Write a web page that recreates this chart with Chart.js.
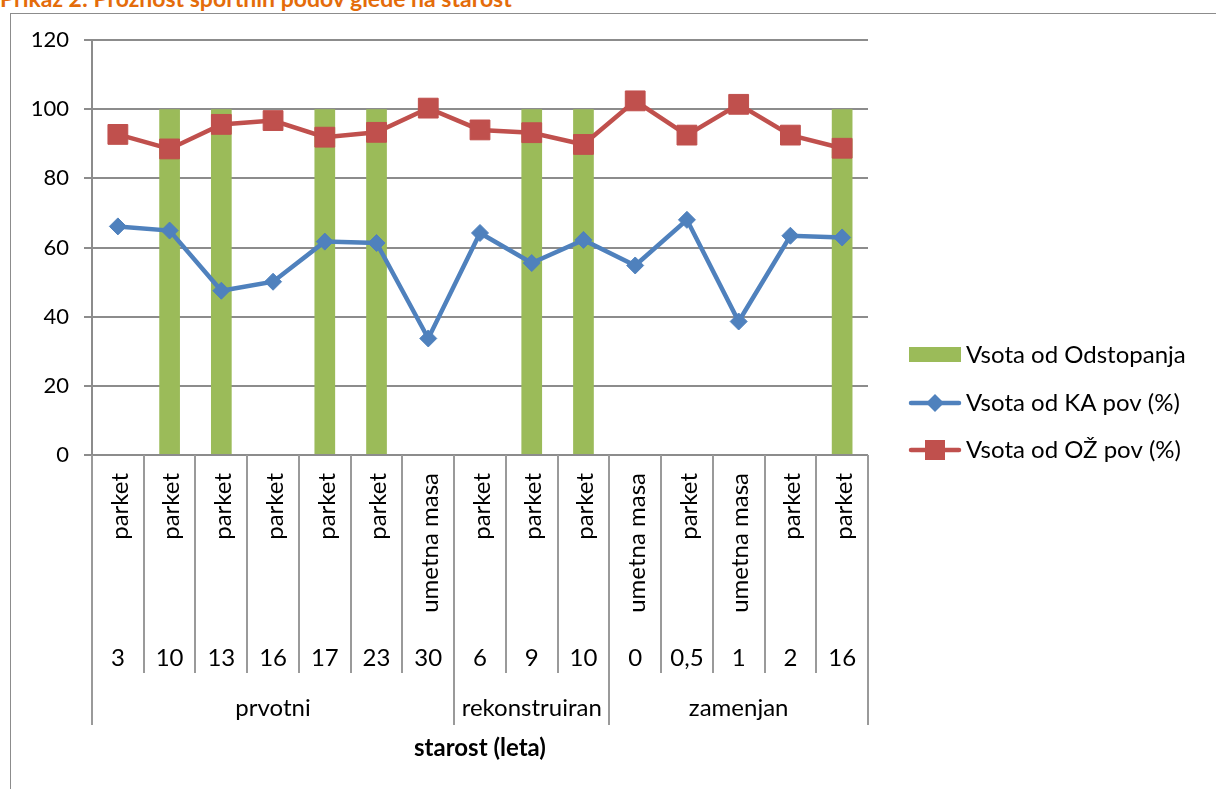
<!DOCTYPE html>
<html>
<head>
<meta charset="utf-8">
<script src="https://cdn.jsdelivr.net/npm/chart.js@4.4.1/dist/chart.umd.min.js"></script>
<style>
  html, body { margin: 0; padding: 0; background: #fff; overflow: hidden; }
  #wrap { position: relative; width: 1216px; height: 789px; }
  #title {
    position: absolute; left: 0; top: -16px; white-space: nowrap;
    font: bold 23px Lato, "Open Sans", sans-serif; color: #e46c0a;
  }
  #frame {
    position: absolute; left: 10px; top: 13px; width: 1300px; height: 900px;
    border: 1.5px solid #8c8c8c; box-sizing: border-box;
  }
  #chart { position: absolute; left: 0; top: 0; }
</style>
</head>
<body>
<div id="wrap">
  <div id="title">Prikaz 2: Prožnost športnih podov glede na starost</div>
  <div id="frame"></div>
  <canvas id="chart" width="1216" height="789"></canvas>
</div>
<script>
// Prožnost športnih podov: stolpci (odstopanja) + dve črti (KA, OŽ), x-os v treh nivojih.
const materials = ["parket", "parket", "parket", "parket", "parket", "parket", "umetna masa",
  "parket", "parket", "parket", "umetna masa", "parket", "umetna masa", "parket", "parket"];
const ages = ["3", "10", "13", "16", "17", "23", "30", "6", "9", "10", "0", "0,5", "1", "2", "16"];
const groupNames = ["prvotni", "rekonstruiran", "zamenjan"];
const groupSizes = [7, 3, 5];

const odstopanja = [0, 100, 100, 0, 100, 100, 0, 0, 100, 100, 0, 0, 0, 0, 100];
const kaPov = [66.1, 64.9, 47.5, 50.1, 61.7, 61.3, 33.7, 64.2, 55.5, 62.2, 54.8, 68.0, 38.6, 63.4, 62.9];
const ozPov = [92.7, 88.5, 95.6, 96.7, 91.9, 93.3, 100.3, 94.0, 93.2, 89.8, 102.4, 92.5, 101.4, 92.5, 88.7];

const FONT = "Lato, 'Open Sans', sans-serif";
const GRID = "#8c8c8c";
const TABLE = "#9a9a9a";

// x-os kot tabela: material (navpično), starost, skupina + naslov osi
const axisTable = {
  id: "axisTable",
  afterDraw(chart) {
    const ctx = chart.ctx;
    const x = chart.scales.x;
    const top = chart.chartArea.bottom;
    const step = x.getPixelForValue(1) - x.getPixelForValue(0);
    const edge = (i) => x.getPixelForValue(i) - step / 2;

    const groupEdges = [0];
    groupSizes.forEach((s) => groupEdges.push(groupEdges[groupEdges.length - 1] + s));

    ctx.save();
    ctx.strokeStyle = TABLE;
    ctx.lineWidth = 2;
    for (let i = 0; i <= ages.length; i++) {
      const px = Math.round(edge(i));
      const bottom = groupEdges.includes(i) ? top + 270 : top + 218;
      ctx.beginPath();
      ctx.moveTo(px, top);
      ctx.lineTo(px, bottom);
      ctx.stroke();
    }

    ctx.fillStyle = "#000";
    ctx.font = `24px ${FONT}`;
    materials.forEach((m, i) => {
      ctx.save();
      ctx.translate(x.getPixelForValue(i) + 2, top + 18);
      ctx.rotate(-Math.PI / 2);
      ctx.textAlign = "right";
      ctx.textBaseline = "middle";
      ctx.fillText(m, 0, 0);
      ctx.restore();
    });

    ctx.textAlign = "center";
    ctx.textBaseline = "middle";
    ages.forEach((a, i) => ctx.fillText(a, x.getPixelForValue(i), top + 203));

    groupNames.forEach((g, k) => {
      const cx = (edge(groupEdges[k]) + edge(groupEdges[k + 1])) / 2;
      ctx.fillText(g, cx, top + 253);
    });

    ctx.font = `bold 24px ${FONT}`;
    ctx.fillText("starost (leta)", (chart.chartArea.left + chart.chartArea.right) / 2, top + 293);
    ctx.restore();
  },
};

// legenda desno, črte z markerji kot v Excelu
const sideLegend = {
  id: "sideLegend",
  afterDraw(chart) {
    const ctx = chart.ctx;
    const rows = [355, 403, 450];
    const x0 = 909, x1 = 961;
    ctx.save();
    ctx.font = `24px ${FONT}`;
    ctx.textBaseline = "middle";
    ctx.textAlign = "left";
    chart.data.datasets.forEach((ds, i) => {
      const y = rows[i];
      if (ds.type === "bar") {
        ctx.fillStyle = ds.backgroundColor;
        ctx.fillRect(x0, y - 8, x1 - x0, 15);
      } else {
        ctx.strokeStyle = ds.borderColor;
        ctx.lineWidth = ds.borderWidth;
        ctx.lineCap = "round";
        ctx.beginPath();
        ctx.moveTo(x0 + 2, y);
        ctx.lineTo(x1 - 2, y);
        ctx.stroke();
        ctx.fillStyle = ds.borderColor;
        const cx = (x0 + x1) / 2;
        if (ds.pointStyle === "rectRot") {
          const r = 9;
          ctx.beginPath();
          ctx.moveTo(cx, y - r);
          ctx.lineTo(cx + r, y);
          ctx.lineTo(cx, y + r);
          ctx.lineTo(cx - r, y);
          ctx.closePath();
          ctx.fill();
        } else {
          ctx.fillRect(cx - 10, y - 10, 20, 20);
        }
      }
      ctx.fillStyle = "#000";
      ctx.fillText(ds.label, 966, y);
    });
    ctx.restore();
  },
};

new Chart(document.getElementById("chart"), {
  data: {
    labels: ages,
    datasets: [
      {
        type: "bar",
        label: "Vsota od Odstopanja",
        data: odstopanja,
        backgroundColor: "#9bbb59",
        barPercentage: 0.4,
        categoryPercentage: 1,
        order: 3,
      },
      {
        type: "line",
        label: "Vsota od KA pov (%)",
        data: kaPov,
        borderColor: "#4f81bd",
        backgroundColor: "#4f81bd",
        borderWidth: 4.5,
        pointStyle: "rectRot",
        pointRadius: 8.5,
        pointBorderWidth: 1,
        tension: 0,
        order: 2,
      },
      {
        type: "line",
        label: "Vsota od OŽ pov (%)",
        data: ozPov,
        borderColor: "#c0504d",
        backgroundColor: "#c0504d",
        borderWidth: 4.5,
        pointStyle: "rect",
        pointRadius: 14,
        pointBorderWidth: 1,
        tension: 0,
        order: 1,
      },
    ],
  },
  plugins: [axisTable, sideLegend],
  options: {
    responsive: false,
    animation: false,
    layout: { padding: { top: 40, left: 0, right: 348, bottom: 0 } },
    plugins: { legend: { display: false }, tooltip: { enabled: false } },
    scales: {
      x: {
        type: "category",
        offset: true,
        grid: { display: false },
        border: { display: false },
        ticks: { display: false },
        afterFit: (s) => { s.height = 334; },
      },
      y: {
        min: 0,
        max: 120,
        ticks: { stepSize: 20, color: "#000", padding: 15, font: { family: FONT, size: 22 } },
        grid: { color: GRID, lineWidth: 2, tickLength: 8 },
        border: { color: GRID, width: 2 },
        afterFit: (s) => { s.width = 92; },
      },
    },
  },
});
</script>
</body>
</html>
